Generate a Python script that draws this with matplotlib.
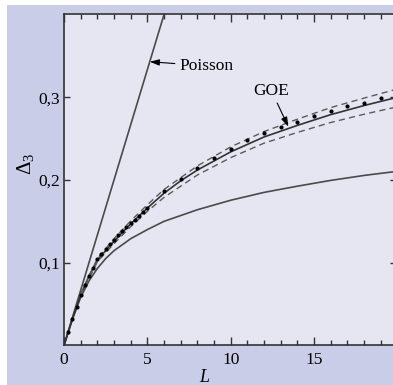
import matplotlib
matplotlib.use("Agg")
import matplotlib.pyplot as plt
from matplotlib.patches import Rectangle

# ---- data ----
poisson_L = [0, 6]
poisson_d = [0, 0.40]

goe_L = [0, 0.5, 1, 1.5, 2, 3, 4, 5, 6, 7, 8, 10, 12, 14, 16, 18, 20]
goe_d = [0, 0.032, 0.061, 0.084, 0.103, 0.126, 0.147, 0.166, 0.184, 0.199,
         0.212, 0.234, 0.252, 0.266, 0.279, 0.290, 0.300]

goe_hi_L = [1, 2, 3, 4, 5, 6, 8, 10, 12, 14, 16, 18, 20]
goe_hi_d = [0.062, 0.105, 0.129, 0.1505, 0.170, 0.1885, 0.217, 0.240,
            0.2585, 0.2735, 0.2875, 0.299, 0.310]
goe_lo_L = [1, 2, 3, 4, 5, 6, 8, 10, 12, 14, 16, 18, 20]
goe_lo_d = [0.060, 0.101, 0.123, 0.1435, 0.162, 0.179, 0.206, 0.227,
            0.2445, 0.2575, 0.2695, 0.2795, 0.2885]

gue_L = [0, 0.5, 1, 1.5, 2, 2.5, 3, 4, 5, 6, 8, 10, 12, 14, 16, 18, 20]
gue_d = [0, 0.031, 0.058, 0.078, 0.093, 0.105, 0.1145, 0.129, 0.140, 0.150,
         0.164, 0.1755, 0.185, 0.1925, 0.1995, 0.2055, 0.2105]

dots_L = [0.25, 0.5, 0.75, 1.0, 1.25, 1.5, 1.75, 2.0, 2.25, 2.5, 2.75, 3.0,
          3.25, 3.5, 3.75, 4.0, 4.25, 4.5, 4.75, 5.0,
          6, 7, 8, 9, 10, 11, 12, 13, 14, 15, 16, 17, 18, 19]
dots_d = [0.016, 0.032, 0.047, 0.061, 0.073, 0.084, 0.094, 0.104, 0.111,
          0.117, 0.123, 0.128, 0.133, 0.138, 0.143, 0.148, 0.152, 0.157,
          0.161, 0.166,
          0.187, 0.201, 0.214, 0.227, 0.238, 0.248, 0.257, 0.264, 0.270,
          0.277, 0.283, 0.289, 0.293, 0.299]

xticks = [0, 5, 10, 15]
yticks = [0.1, 0.2, 0.3]
ytick_labels = ["0,1", "0,2", "0,3"]

# ---- figure ----
plt.rcParams["font.family"] = "Liberation Serif"
plt.rcParams["mathtext.fontset"] = "custom"
plt.rcParams["mathtext.rm"] = "Liberation Serif"
plt.rcParams["mathtext.it"] = "Liberation Serif:italic"

fig = plt.figure(figsize=(3.93, 3.85), dpi=100)
fig.patch.set_facecolor("white")
fig.add_artist(Rectangle((7 / 393, 0), 1, 380 / 385, transform=fig.transFigure,
                         facecolor="#c9cde7", edgecolor="none", zorder=-5))

ax = fig.add_axes([64 / 393, 39.6 / 385, 332 / 393, 331.4 / 385])
ax.set_facecolor("#e6e6f2")

line_col = "#4a4a4a"
ax.plot(poisson_L, poisson_d, color=line_col, lw=1.2)
ax.plot(gue_L, gue_d, color=line_col, lw=1.2)
ax.plot(goe_L, goe_d, color="#333333", lw=1.2)
ax.plot(goe_hi_L, goe_hi_d, color="#5a5a5a", lw=1.0, ls=(0, (4.5, 3)))
ax.plot(goe_lo_L, goe_lo_d, color="#5a5a5a", lw=1.0, ls=(0, (4.5, 3)))
ax.plot(dots_L, dots_d, "o", color="black", ms=3.0, mew=0)

ax.set_xlim(0, 19.92)
ax.set_ylim(0, 0.4007)

ax.set_xticks(xticks)
ax.set_xticks(range(0, 20), minor=True)
ax.set_yticks(yticks)
ax.set_yticklabels(ytick_labels)
ax.tick_params(axis="both", which="both", direction="in", top=True, right=True,
               color="#333333", labelsize=12.5)
ax.tick_params(axis="x", which="major", length=6, width=1, pad=5)
ax.tick_params(axis="x", which="minor", length=3.5, width=1)
ax.tick_params(axis="y", which="major", length=4.5, width=1, pad=3)

for sp in ax.spines.values():
    sp.set_color("#333333")
    sp.set_linewidth(1.2)

ax.set_xlabel("L", fontstyle="italic", fontsize=13)
ax.xaxis.set_label_coords(0.422, -0.07)
ax.set_ylabel(r"$\mathit{\Delta}_3$", fontsize=15)
ax.yaxis.set_label_coords(-0.085, 0.547)

arrow = dict(arrowstyle="-|>,head_length=0.45,head_width=0.15", color="black",
             lw=0.8, shrinkA=1, shrinkB=0)
ax.annotate("Poisson", xy=(5.15, 0.343), xytext=(6.9, 0.338),
            ha="left", va="center", fontsize=12.5, arrowprops=arrow)
ax.annotate("GOE", xy=(13.46, 0.2645), xytext=(12.45, 0.3076),
            ha="center", va="center", fontsize=12.5, arrowprops=arrow)

fig.savefig("out.png", dpi=100)
